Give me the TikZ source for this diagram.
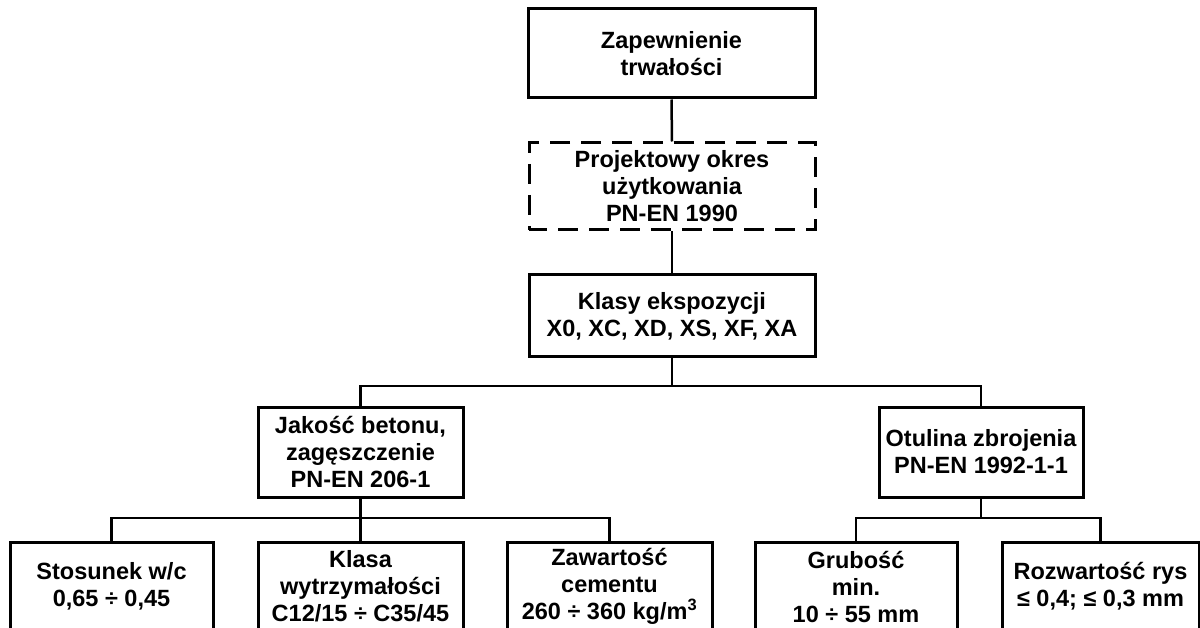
\documentclass[tikz,border=0pt]{standalone}
\usepackage{fontspec}
\setmainfont{Liberation Sans}
\begin{document}
\begin{tikzpicture}[x=1pt,y=-1pt,
  box/.style={draw=black, line width=3pt, fill=white, rectangle, inner sep=0pt,
    align=center, font=\bfseries\fontsize{23.5}{27}\selectfont, line join=miter},
  dbox/.style={box, dash pattern=on 20pt off 11pt, dash phase=2pt},
  conn/.style={draw=black, line width=2.5pt, line join=miter}]
\useasboundingbox (0,0) rectangle (1200,628);
\clip (0,0) rectangle (1200,628);
% top column
\node[box, minimum width=287pt, minimum height=89pt] (z) at (671.5,53.5) {Zapewnienie\\trwałości};
\node[dbox, minimum width=286pt, minimum height=87pt] (p) at (672,186.5) {Projektowy okres\\użytkowania\\PN-EN 1990};
\node[box, minimum width=286pt, minimum height=82pt] (k) at (672,316) {Klasy ekspozycji\\X0, XC, XD, XS, XF, XA};
% second level
\node[box, minimum width=205pt, minimum height=90pt] (j) at (360.5,452) {Jakość betonu,\\zagęszczenie\\PN-EN 206-1};
\node[box, minimum width=204pt, minimum height=90pt] (o) at (981,452) {Otulina zbrojenia\\PN-EN 1992-1-1};
% bottom level
\node[box, minimum width=203pt, minimum height=89pt] (b1) at (111.5,586.5) {Stosunek w/c\\0,65 ÷ 0,45};
\node[box, minimum width=205pt, minimum height=89pt] (b2) at (360.5,586.5) {Klasa\\wytrzymałości\\C12/15 ÷ C35/45};
\node[box, minimum width=205pt, minimum height=89pt] (b3) at (609.5,586.5) {Zawartość\\cementu\\260 ÷ 360 kg/m\textsuperscript{3}};
\node[box, minimum width=202pt, minimum height=89pt] (b4) at (856,586.5) {Grubość\\min.\\10 ÷ 55 mm};
\node[box, minimum width=197pt, minimum height=89pt] (b5) at (1100.5,586.5) {Rozwartość rys\\≤ 0,4; ≤ 0,3 mm};
% junction points
\coordinate (kj) at (672,386);
\coordinate (jj) at (360.5,518);
\coordinate (oj) at (981,518);
% connectors
\draw[conn] (z.south) -- (p.north);
\draw[conn] (p.south) -- (k.north);
\draw[conn] (k.south) -- (kj);
\draw[conn] (kj) -| (j.north);
\draw[conn] (kj) -| (o.north);
\draw[conn] (j.south) -- (jj);
\draw[conn] (jj) -| (b1.north);
\draw[conn] (jj) -- (b2.north);
\draw[conn] (jj) -| (b3.north);
\draw[conn] (o.south) -- (oj);
\draw[conn] (oj) -| (b4.north);
\draw[conn] (oj) -| (b5.north);
\end{tikzpicture}
\end{document}
